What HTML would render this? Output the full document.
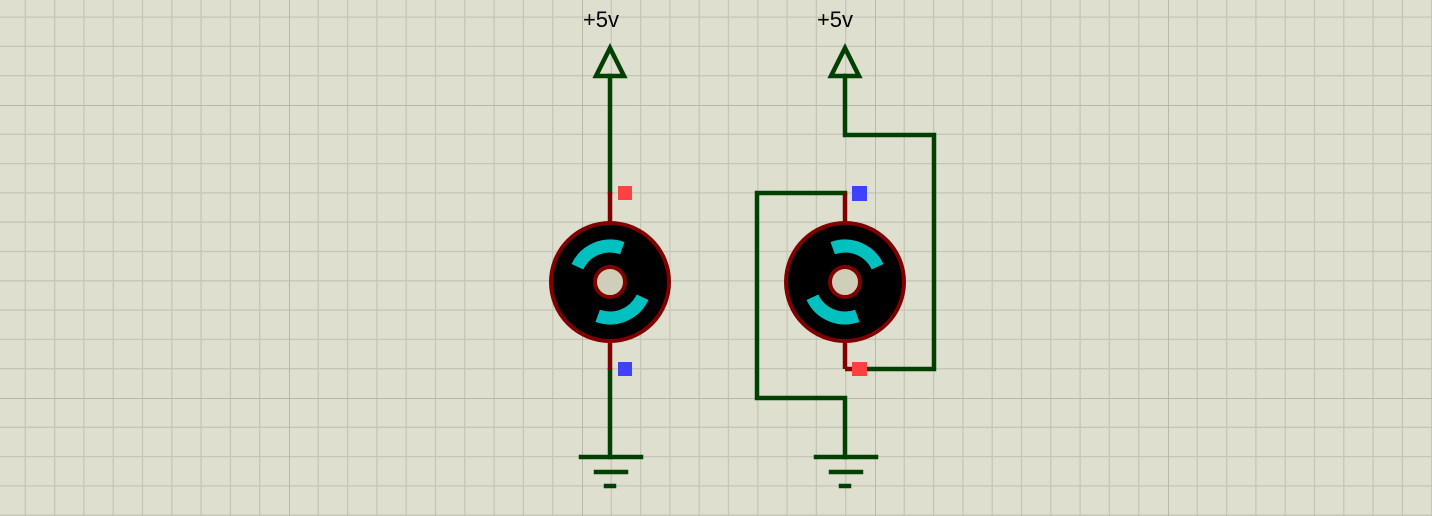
<!DOCTYPE html>
<html><head><meta charset="utf-8"><style>html,body{margin:0;padding:0;background:#dfdfd0}svg{display:block}</style></head>
<body>
<svg width="1432" height="516" viewBox="0 0 1432 516" xmlns="http://www.w3.org/2000/svg">
<defs>
<pattern id="g" x="289" y="105" width="293" height="293" patternUnits="userSpaceOnUse">
<g stroke="#c6c6b6" stroke-width="1.3">
<line x1="29.3" y1="0" x2="29.3" y2="293"/><line x1="58.6" y1="0" x2="58.6" y2="293"/><line x1="87.9" y1="0" x2="87.9" y2="293"/><line x1="117.2" y1="0" x2="117.2" y2="293"/><line x1="146.5" y1="0" x2="146.5" y2="293"/><line x1="175.8" y1="0" x2="175.8" y2="293"/><line x1="205.1" y1="0" x2="205.1" y2="293"/><line x1="234.4" y1="0" x2="234.4" y2="293"/><line x1="263.7" y1="0" x2="263.7" y2="293"/>
<line y1="29.3" x1="0" y2="29.3" x2="293"/><line y1="58.6" x1="0" y2="58.6" x2="293"/><line y1="87.9" x1="0" y2="87.9" x2="293"/><line y1="117.2" x1="0" y2="117.2" x2="293"/><line y1="146.5" x1="0" y2="146.5" x2="293"/><line y1="175.8" x1="0" y2="175.8" x2="293"/><line y1="205.1" x1="0" y2="205.1" x2="293"/><line y1="234.4" x1="0" y2="234.4" x2="293"/><line y1="263.7" x1="0" y2="263.7" x2="293"/>
</g>
<g stroke="#b9b9aa" stroke-width="2"><line x1="0" y1="0" x2="0" y2="293"/><line x1="0" y1="0" x2="293" y2="0"/></g>
</pattern>
</defs>
<rect width="1432" height="516" fill="#dfdfd0"/>
<rect width="1432" height="516" fill="url(#g)"/>

<g font-family="Liberation Sans, sans-serif" font-size="22" fill="#000">
<text x="601" y="27" text-anchor="middle">+5v</text>
<text x="835" y="27" text-anchor="middle">+5v</text>
</g>

<g stroke="#004000" stroke-width="4.5" fill="none" stroke-linecap="square">
<polygon points="610,48 596,76 624,76" stroke-linejoin="miter"/>
<line x1="610" y1="76" x2="610" y2="192"/>
<line x1="610" y1="370" x2="610" y2="457"/>
<line x1="581" y1="457" x2="641" y2="457"/>
<line x1="596" y1="472" x2="626" y2="472"/>
<line x1="606" y1="486" x2="614" y2="486"/>
<polygon points="845,48 831,76 859,76"/>
<polyline points="845,76 845,135 934,135 934,369 860,369"/>
<polyline points="845,193 757,193 757,398 845,398 845,457"/>
<line x1="816" y1="457" x2="876" y2="457"/>
<line x1="831" y1="472" x2="861" y2="472"/>
<line x1="841" y1="486" x2="849" y2="486"/>
</g>

<g stroke="#800000" stroke-width="4.5">
<line x1="610" y1="192" x2="610" y2="222"/>
<line x1="610" y1="342" x2="610" y2="370"/>
<line x1="845" y1="193" x2="845" y2="222"/>
<line x1="845" y1="342" x2="845" y2="369"/>
<line x1="845" y1="369" x2="860" y2="369"/>
</g>

<g>
<circle cx="610" cy="282" r="59" fill="#000" stroke="#800000" stroke-width="4"/>
<g fill="none" stroke="#00c0c0" stroke-width="13">
<path d="M577.4,266.8 A36,36 0 0 1 622.3,248.2"/>
<path d="M642.6,297.2 A36,36 0 0 1 597.7,315.8"/>
</g>
<circle cx="610" cy="282" r="15" fill="#cfcfb9" stroke="#800000" stroke-width="4"/>

<circle cx="845" cy="282" r="59" fill="#000" stroke="#800000" stroke-width="4"/>
<g fill="none" stroke="#00c0c0" stroke-width="13">
<path d="M832.7,248.2 A36,36 0 0 1 877.6,266.8"/>
<path d="M857.3,315.8 A36,36 0 0 1 812.4,297.2"/>
</g>
<circle cx="845" cy="282" r="15" fill="#cfcfb9" stroke="#800000" stroke-width="4"/>
</g>

<rect x="618" y="186" width="14" height="14" fill="#ff4040"/>
<rect x="618" y="362" width="14" height="14" fill="#4040ff"/>
<rect x="852" y="186" width="15" height="15" fill="#4040ff"/>
<rect x="852" y="362" width="15" height="14" fill="#ff4040"/>
</svg>
</body></html>
